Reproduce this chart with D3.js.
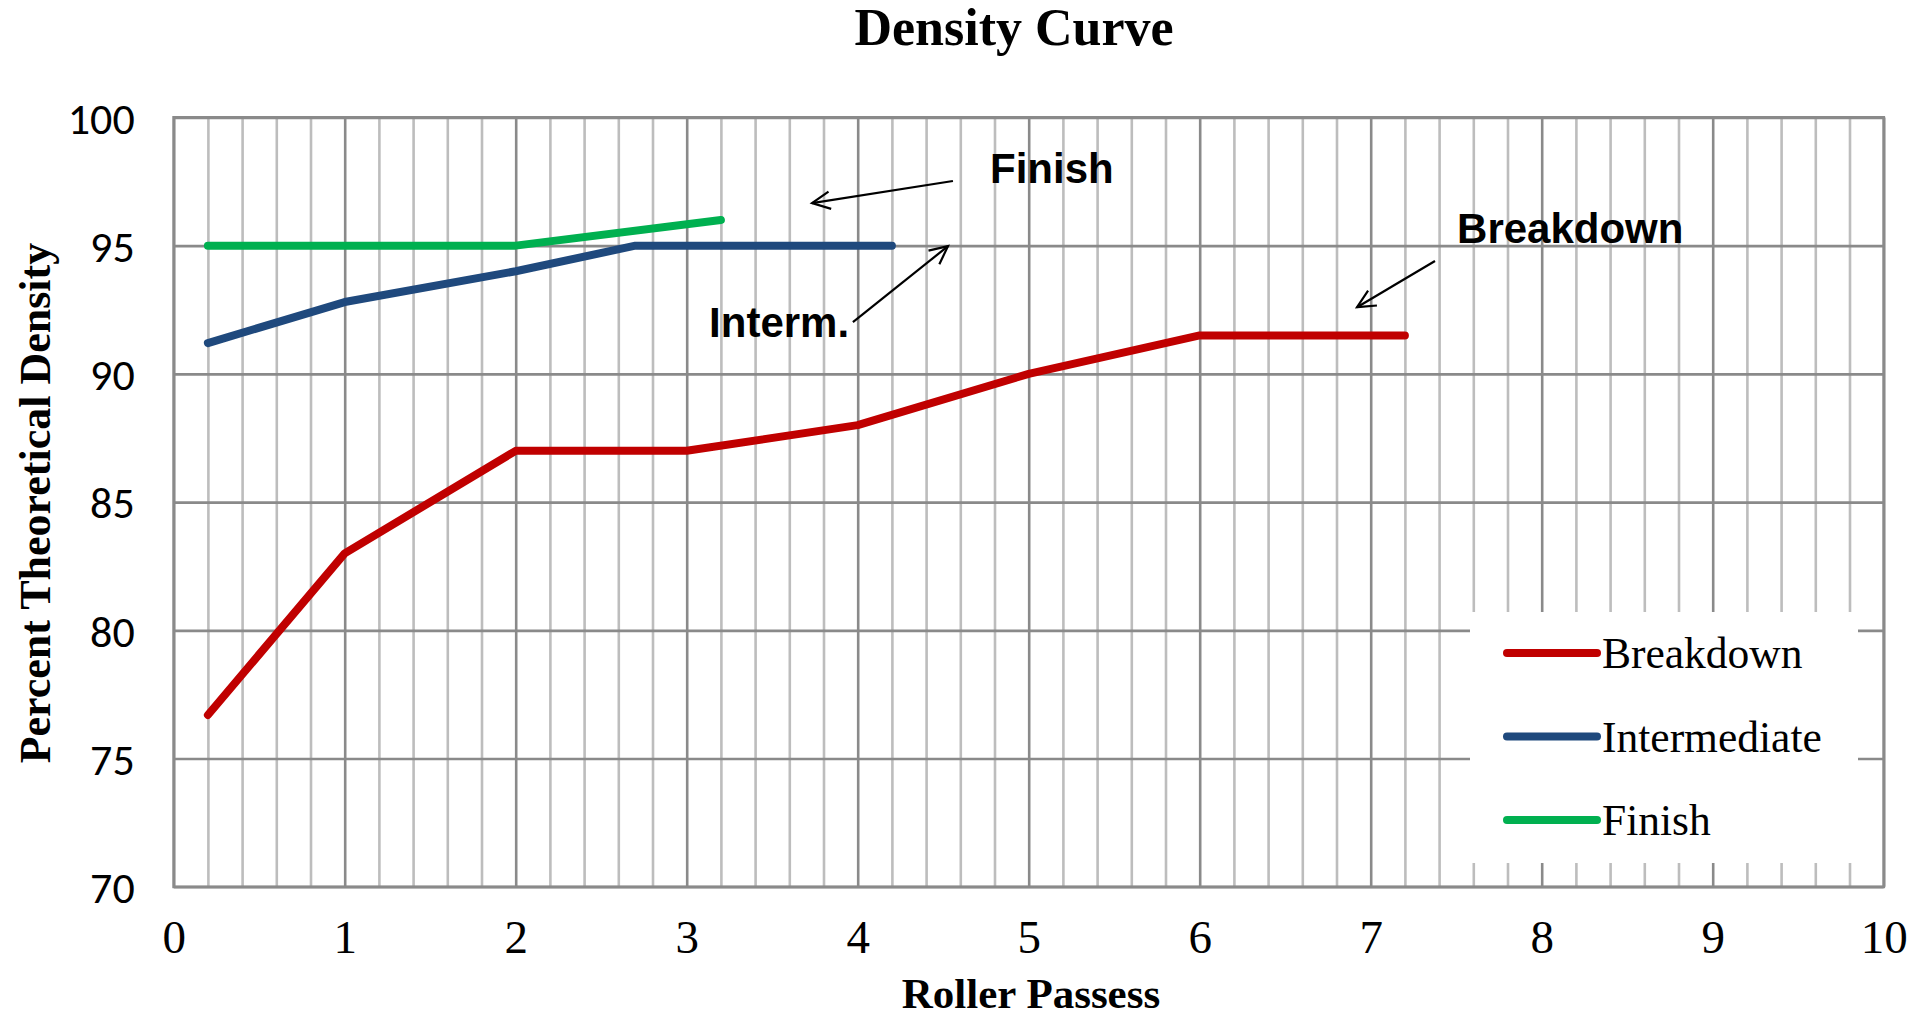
<!DOCTYPE html>
<html>
<head>
<meta charset="utf-8">
<script src="https://cdn.jsdelivr.net/npm/d3@7"></script>
<style>
  html, body { margin: 0; padding: 0; background: #fff; }
  svg { display: block; }
</style>
</head>
<body>
<svg id="chart" width="1918" height="1018"></svg>
<script>
// Density vs. number of roller passes for the three compaction stages
const breakdownPasses = [0.2, 1, 2, 3, 4, 5, 6, 7.2];
const breakdownDensity = [76.7, 83, 87, 87, 88, 90, 91.5, 91.5];

const intermediatePasses = [0.2, 1, 2, 2.7, 4.2];
const intermediateDensity = [91.2, 92.8, 94, 95, 95];

const finishPasses = [0.2, 2, 3.2];
const finishDensity = [95, 95, 96];

const seriesNames = ["Breakdown", "Intermediate", "Finish"];
const seriesColors = ["#C00000", "#1F497D", "#00B050"];

const xTicks = [0, 1, 2, 3, 4, 5, 6, 7, 8, 9, 10];
const yTicks = [70, 75, 80, 85, 90, 95, 100];

// Callout labels with their leader arrows (data units)
const calloutText = ["Finish", "Interm.", "Breakdown"];
const calloutAt = [[4.774, 97.44], [3.131, 91.43], [7.505, 95.10]];
const arrowFrom = [[4.557, 97.52], [3.972, 92.02], [7.376, 94.40]];
const arrowTo = [[3.733, 96.66], [4.528, 94.98], [6.92, 92.6]];

(function draw() {
const svg = d3.select("#chart");
const plotL = 173.7, plotR = 1883.7, plotT = 117.4, plotB = 886.8;

const x = d3.scaleLinear().domain([0, 10]).range([plotL, plotR]);
const y = d3.scaleLinear().domain([70, 100]).range([plotB, plotT]);

const serif = "'Liberation Serif', 'Times New Roman', serif";

// Title
svg.append("text")
  .attr("x", 1014).attr("y", 45)
  .attr("text-anchor", "middle")
  .attr("font-family", serif).attr("font-weight", "bold").attr("font-size", 52)
  .text("Density Curve");

// Minor vertical grid every 0.2
const minor = d3.range(0, 10.0001, 0.2).map(v => +v.toFixed(1)).filter(v => Math.abs(v - Math.round(v)) > 1e-6);
svg.append("g")
  .attr("transform", `translate(0,${plotB})`)
  .call(d3.axisBottom(x).tickValues(minor).tickSize(-(plotB - plotT)).tickFormat(""))
  .call(g => g.select(".domain").remove())
  .call(g => g.selectAll("line").attr("stroke", "#bdbdbd").attr("stroke-width", 2.6));

// Major vertical grid at whole passes
svg.append("g")
  .attr("transform", `translate(0,${plotB})`)
  .call(d3.axisBottom(x).tickValues(xTicks).tickSize(-(plotB - plotT)).tickFormat(""))
  .call(g => g.select(".domain").remove())
  .call(g => g.selectAll("line").attr("stroke", "#8a8a8a").attr("stroke-width", 2.6));

// Horizontal grid
svg.append("g")
  .attr("transform", `translate(${plotL},0)`)
  .call(d3.axisLeft(y).tickValues(yTicks).tickSize(-(plotR - plotL)).tickFormat(""))
  .call(g => g.select(".domain").remove())
  .call(g => g.selectAll("line").attr("stroke", "#8a8a8a").attr("stroke-width", 2.6));

// Legend box (covers the grid behind it)
const legend = svg.append("g");
legend.append("rect")
  .attr("x", 1470).attr("y", 612).attr("width", 388).attr("height", 251)
  .attr("fill", "#fff");

// Plot frame
svg.append("rect")
  .attr("x", plotL).attr("y", plotT).attr("width", plotR - plotL).attr("height", plotB - plotT)
  .attr("fill", "none").attr("stroke", "#8a8a8a").attr("stroke-width", 2.8);

// Axis tick labels
svg.append("g")
  .attr("transform", `translate(0,${plotB})`)
  .call(d3.axisBottom(x).tickValues(xTicks).tickSize(0).tickPadding(0).tickFormat(d3.format("d")))
  .call(g => g.select(".domain").remove())
  .call(g => g.selectAll("text")
    .attr("y", 66).attr("dy", 0)
    .attr("font-family", serif).attr("font-size", 47).attr("fill", "#000"));

svg.append("g")
  .attr("transform", `translate(${plotL},0)`)
  .call(d3.axisLeft(y).tickValues(yTicks).tickSize(0).tickPadding(39).tickFormat(d3.format("d")))
  .call(g => g.select(".domain").remove())
  .call(g => g.selectAll("text")
    .attr("dy", "0.36em")
    .attr("font-family", "Carlito, Lato, 'Liberation Sans', sans-serif").attr("font-size", 44).attr("fill", "#000"));

// Axis titles
svg.append("text")
  .attr("x", 1031).attr("y", 1008)
  .attr("text-anchor", "middle")
  .attr("font-family", serif).attr("font-weight", "bold").attr("font-size", 43)
  .text("Roller Passess");

svg.append("text")
  .attr("transform", `translate(50,${(plotT + plotB) / 2 + 1}) rotate(-90)`)
  .attr("text-anchor", "middle")
  .attr("font-family", serif).attr("font-weight", "bold").attr("font-size", 44)
  .text("Percent Theoretical Density");

// Series lines
const series = [
  { xs: breakdownPasses, ys: breakdownDensity },
  { xs: intermediatePasses, ys: intermediateDensity },
  { xs: finishPasses, ys: finishDensity }
];
const line = d3.line().x(d => x(d[0])).y(d => y(d[1]));
series.forEach((s, i) => {
  svg.append("path")
    .datum(s.xs.map((v, j) => [v, s.ys[j]]))
    .attr("d", line)
    .attr("fill", "none")
    .attr("stroke", seriesColors[i])
    .attr("stroke-width", 8)
    .attr("stroke-linecap", "round")
    .attr("stroke-linejoin", "round");
});

// Legend entries
seriesNames.forEach((name, i) => {
  const ly = 653 + i * 83.5;
  legend.append("line")
    .attr("x1", 1507).attr("x2", 1597).attr("y1", ly).attr("y2", ly)
    .attr("stroke", seriesColors[i]).attr("stroke-width", 8).attr("stroke-linecap", "round");
  legend.append("text")
    .attr("x", 1602).attr("y", ly + 15)
    .attr("font-family", serif).attr("font-size", 43.5).attr("fill", "#000")
    .text(name);
});

// Callouts with open arrowheads
const callouts = svg.append("g");
calloutText.forEach((t, i) => {
  callouts.append("text")
    .attr("x", x(calloutAt[i][0])).attr("y", y(calloutAt[i][1]))
    .attr("font-family", "'Liberation Sans', Arial, sans-serif").attr("font-weight", "bold").attr("font-size", 42)
    .text(t);
  const x1 = x(arrowFrom[i][0]), y1 = y(arrowFrom[i][1]);
  const x2 = x(arrowTo[i][0]), y2 = y(arrowTo[i][1]);
  const ang = Math.atan2(y2 - y1, x2 - x1);
  const len = 20, spread = 0.45;
  const head = [ang + Math.PI - spread, ang + Math.PI + spread]
    .map(a => [x2 + len * Math.cos(a), y2 + len * Math.sin(a)]);
  callouts.append("line")
    .attr("x1", x1).attr("y1", y1).attr("x2", x2).attr("y2", y2)
    .attr("stroke", "#000").attr("stroke-width", 2.2);
  callouts.append("path")
    .attr("d", `M${head[0][0]},${head[0][1]}L${x2},${y2}L${head[1][0]},${head[1][1]}`)
    .attr("fill", "none").attr("stroke", "#000").attr("stroke-width", 2.2);
});
})();
</script>
</body>
</html>
